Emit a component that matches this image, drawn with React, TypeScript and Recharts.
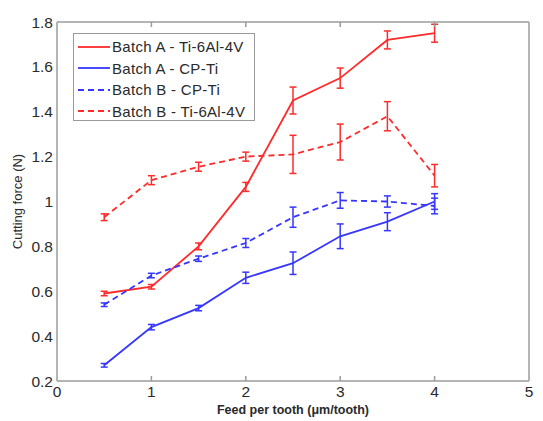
import React from 'react';
import { LineChart, Line, XAxis, YAxis, ErrorBar, Legend } from 'recharts';

const feed = [0.5, 1, 1.5, 2, 2.5, 3, 3.5, 4];

const batchATi64 = [0.59, 0.62, 0.8, 1.065, 1.45, 1.55, 1.72, 1.75];
const batchATi64Err = [0.01, 0.01, 0.015, 0.02, 0.06, 0.045, 0.04, 0.04];
const batchACP = [0.27, 0.44, 0.525, 0.66, 0.725, 0.845, 0.91, 1.0];
const batchACPErr = [0.008, 0.012, 0.012, 0.025, 0.05, 0.055, 0.04, 0.035];
const batchBCP = [0.54, 0.67, 0.745, 0.815, 0.93, 1.005, 1.0, 0.98];
const batchBCPErr = [0.008, 0.01, 0.012, 0.02, 0.045, 0.035, 0.025, 0.035];
const batchBTi64 = [0.93, 1.095, 1.155, 1.2, 1.21, 1.265, 1.38, 1.115];
const batchBTi64Err = [0.015, 0.02, 0.02, 0.02, 0.085, 0.08, 0.065, 0.05];

const xTicks = [0, 1, 2, 3, 4, 5];
const yTicks = [0.2, 0.4, 0.6, 0.8, 1, 1.2, 1.4, 1.6, 1.8];

const RED = '#ff2b2b';
const BLUE = '#3636ff';
const FRAME = '#b4b4b4';
const TICK = '#9a9a9a';
const FONT = '"Liberation Sans", Arial, sans-serif';

const data = feed.map((f, i) => ({
  feed: f,
  aTi: batchATi64[i],
  aTiErr: batchATi64Err[i],
  aCP: batchACP[i],
  aCPErr: batchACPErr[i],
  bCP: batchBCP[i],
  bCPErr: batchBCPErr[i],
  bTi: batchBTi64[i],
  bTiErr: batchBTi64Err[i],
}));

const legendItems = [
  { name: 'Batch A - Ti-6Al-4V', color: RED, dash: undefined },
  { name: 'Batch A - CP-Ti', color: BLUE, dash: undefined },
  { name: 'Batch B - CP-Ti', color: BLUE, dash: '6 4' },
  { name: 'Batch B - Ti-6Al-4V', color: RED, dash: '6 4' },
];

const renderLegend = () => (
  <div
    style={{
      width: 182,
      height: 88,
      boxSizing: 'border-box',
      border: '1px solid #9a9a9a',
      background: '#fff',
      paddingTop: 2,
      fontFamily: FONT,
    }}
  >
    {legendItems.map((it) => (
      <div key={it.name} style={{ height: 21.5, display: 'flex', alignItems: 'center' }}>
        <svg width={32} height={8} style={{ marginLeft: 4 }}>
          <line x1={0} y1={4} x2={32} y2={4} stroke={it.color} strokeWidth={1.8} strokeDasharray={it.dash} />
        </svg>
        <span style={{ marginLeft: 2, fontSize: 15, letterSpacing: 0.3, color: '#2a2a2a', whiteSpace: 'nowrap' }}>
          {it.name}
        </span>
      </div>
    ))}
  </div>
);

const YLabel = ({ viewBox }: any) => {
  const x = viewBox.x + 17;
  const y = viewBox.y + viewBox.height / 2;
  return (
    <text x={x} y={y} transform={`rotate(-90 ${x} ${y})`} textAnchor="middle" dominantBaseline="central"
      fontSize={13} fill="#2a2a2a" fontFamily={FONT}>
      Cutting force (N)
    </text>
  );
};

const XLabel = ({ viewBox }: any) => (
  <text x={viewBox.x + viewBox.width / 2} y={viewBox.y + 29} textAnchor="middle" dominantBaseline="central"
    fontSize={12.5} fontWeight="bold" fill="#2a2a2a" fontFamily={FONT}>
    Feed per tooth (μm/tooth)
  </text>
);

const blank = () => '';

export default function App() {
  const tickStyle = { fontSize: 15.5, fill: '#2a2a2a', fontFamily: FONT };
  const innerTick = { stroke: TICK, strokeWidth: 1.5 };
  return (
    <div style={{ position: 'absolute', left: 0, top: 0, background: '#fff' }}>
      <LineChart width={543} height={421} data={data} margin={{ top: 22, right: 14, left: 0, bottom: 0 }}>
        <XAxis xAxisId={0} type="number" dataKey="feed" domain={[0, 5]} ticks={xTicks} height={40}
          tick={tickStyle} tickLine={false} tickSize={0} tickMargin={5}
          axisLine={{ stroke: FRAME, strokeWidth: 2 }} label={<XLabel />} />
        <XAxis xAxisId="bt" type="number" dataKey="feed" domain={[0, 5]} ticks={xTicks} mirror
          tickFormatter={blank} tickSize={5} tickLine={innerTick} axisLine={false} />
        <XAxis xAxisId="top" orientation="top" type="number" dataKey="feed" domain={[0, 5]} ticks={xTicks} mirror
          tickFormatter={blank} tickSize={5} tickLine={innerTick} axisLine={{ stroke: FRAME, strokeWidth: 2 }} />
        <YAxis yAxisId={0} type="number" domain={[0.2, 1.8]} ticks={yTicks} width={57}
          tick={tickStyle} tickLine={false} tickSize={0} tickMargin={4}
          tickFormatter={(v: number) => `${+v.toFixed(1)}`}
          axisLine={{ stroke: FRAME, strokeWidth: 2 }} label={<YLabel />} />
        <YAxis yAxisId="lt" type="number" domain={[0.2, 1.8]} ticks={yTicks} mirror
          tickFormatter={blank} tickSize={5} tickLine={innerTick} axisLine={false} />
        <YAxis yAxisId="rt" orientation="right" type="number" domain={[0.2, 1.8]} ticks={yTicks} mirror
          tickFormatter={blank} tickSize={5} tickLine={innerTick} axisLine={{ stroke: FRAME, strokeWidth: 2 }} />

        <Line dataKey="aTi" stroke={RED} strokeWidth={1.8} dot={false} isAnimationActive={false}>
          <ErrorBar dataKey="aTiErr" width={3.5} stroke={RED} strokeWidth={1.5} direction="y" isAnimationActive={false} />
        </Line>
        <Line dataKey="aCP" stroke={BLUE} strokeWidth={1.8} dot={false} isAnimationActive={false}>
          <ErrorBar dataKey="aCPErr" width={3.5} stroke={BLUE} strokeWidth={1.5} direction="y" isAnimationActive={false} />
        </Line>
        <Line dataKey="bCP" stroke={BLUE} strokeWidth={1.8} strokeDasharray="6 4" dot={false} isAnimationActive={false}>
          <ErrorBar dataKey="bCPErr" width={3.5} stroke={BLUE} strokeWidth={1.5} direction="y" isAnimationActive={false} />
        </Line>
        <Line dataKey="bTi" stroke={RED} strokeWidth={1.8} strokeDasharray="6 4" dot={false} isAnimationActive={false}>
          <ErrorBar dataKey="bTiErr" width={3.5} stroke={RED} strokeWidth={1.5} direction="y" isAnimationActive={false} />
        </Line>

        <Legend layout="horizontal" verticalAlign="middle" align="center" content={renderLegend}
          wrapperStyle={{ left: 73, top: 33, width: 182, height: 88 }} />
      </LineChart>
    </div>
  );
}
